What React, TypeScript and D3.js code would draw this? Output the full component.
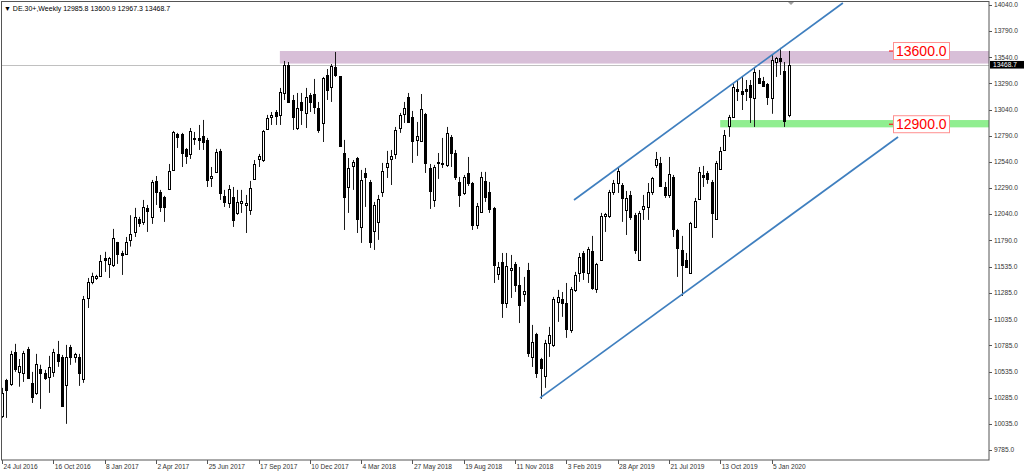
import React from 'react';
import * as d3 from 'd3';

// ---- Data (DE.30+, weekly candles starting week of 24 Jul 2016) ----
const opens = [
  10111, 10455, 10417, 10723, 10530, 10522, 10752, 10427, 10331, 10560,
  10522, 10484, 10532, 10704, 10675, 10407, 10771, 10675, 10675, 10465,
  11239, 11392, 11430, 11450, 11621, 11564, 11555, 11775, 11670, 11660,
  11790, 11870, 11995, 11966, 12100, 12014, 12358, 12253, 12205, 12281,
  12463, 12807, 12807, 12664, 12616, 12759, 12769, 12788, 12750, 12385,
  12444, 12645, 12214, 12147, 12205, 12052, 12147, 12128, 12080, 12377,
  12568, 12558, 12855, 12970, 13017, 12989, 13199, 13467, 13132, 12864,
  13113, 13008, 13180, 13189, 13055, 12912, 13371, 13256, 13448, 13361,
  12625, 12300, 12501, 12577, 11918, 12434, 12348, 11880, 11966, 12253,
  12491, 12568, 12616, 12864, 12998, 13161, 12970, 12750, 12740, 12998,
  12482, 12176, 12539, 12520, 12511, 12778, 12625, 12348, 12243, 12434,
  12338, 11937, 12061, 12358, 12253, 12099, 11469, 11583, 11191, 11507,
  11564, 11363, 11277, 11507, 10675, 10895, 10656, 10494, 10809, 10790,
  11201, 11230, 11191, 10933, 11316, 11478, 11669, 11478, 11688, 11325,
  11602, 12023, 12023, 12253, 12338, 12319, 12080, 12224, 12033, 11602,
  12090, 12109, 12253, 12511, 12530, 12300, 12224, 12396, 11889, 11698,
  11602, 11478, 11918, 12186, 12415, 12434, 12348, 11995, 12472, 12654,
  12883, 12970, 13237, 13218, 13237, 13276, 13151, 13342, 13314, 13285,
  13150, 13495, 13533, 13410, 12985.8,
];
const highs = [
  10379, 10465, 10733, 10800, 10655, 10733, 10771, 10532, 10704, 10600,
  10551, 10685, 10752, 10828, 10694, 10790, 10790, 10714, 10704, 11258,
  11430, 11480, 11460, 11650, 11680, 11631, 11899, 11775, 11690, 11822,
  12030, 12100, 12014, 12176, 12128, 12367, 12405, 12272, 12215, 12520,
  12836, 12817, 12817, 12673, 12864, 12826, 12893, 12941, 12769, 12491,
  12664, 12664, 12272, 12319, 12300, 12272, 12272, 12224, 12358, 12558,
  12616, 12845, 12989, 13017, 13036, 13247, 13505, 13495, 13180, 13199,
  13199, 13247, 13199, 13333, 13113, 13352, 13428, 13476, 13591, 13361,
  12750, 12577, 12558, 12587, 12463, 12482, 12367, 12157, 12224, 12530,
  12645, 12654, 12874, 13008, 13113, 13199, 13027, 12922, 13189, 13008,
  12520, 12511, 12625, 12769, 12874, 12797, 12654, 12396, 12415, 12587,
  12348, 12147, 12444, 12444, 12348, 12109, 11583, 11669, 11669, 11650,
  11583, 11535, 11440, 11574, 10981, 10905, 10666, 10838, 10962, 11249,
  11316, 11296, 11382, 11344, 11488, 11669, 11688, 11727, 11832, 11574,
  12052, 12052, 12272, 12367, 12482, 12338, 12262, 12262, 12052, 12071,
  12224, 12338, 12396, 12635, 12587, 12348, 12587, 12415, 11899, 11832,
  11669, 11966, 12195, 12491, 12501, 12453, 12367, 12549, 12683, 12845,
  12989, 13285, 13323, 13352, 13323, 13323, 13448, 13419, 13352, 13294,
  13562, 13543, 13630, 13495, 13600.9,
];
const lows = [
  10092, 10092, 10398, 10532, 10390, 10436, 10474, 10235, 10312, 10178,
  10455, 10331, 10484, 10580, 10197, 10035, 10599, 10620, 10398, 10427,
  11143, 11370, 11411, 11440, 11488, 11430, 11535, 11564, 11459, 11650,
  11730, 11822, 11918, 11937, 11870, 11947, 12128, 12061, 11966, 12272,
  12453, 12673, 12491, 12520, 12568, 12702, 12654, 12654, 12300, 12300,
  12434, 12176, 12109, 12099, 11918, 12033, 12052, 11860, 12033, 12367,
  12491, 12539, 12845, 12893, 12893, 12893, 13132, 13103, 12845, 12845,
  12893, 12864, 13017, 12998, 12817, 12730, 13132, 13113, 13352, 12683,
  11889, 12052, 12272, 11860, 11765, 12109, 11717, 11698, 11794, 12205,
  12386, 12319, 12568, 12817, 12912, 12912, 12530, 12597, 12730, 12434,
  12090, 12109, 12377, 12482, 12491, 12491, 12367, 12109, 12224, 12310,
  11889, 11899, 12052, 12157, 12052, 11382, 11411, 11048, 11143, 11239,
  11296, 10999, 11201, 10675, 10579, 10474, 10274, 10379, 10675, 10771,
  11010, 11058, 10857, 10905, 11296, 11392, 11411, 11382, 11316, 11287,
  11593, 11870, 12004, 12224, 12243, 11966, 11841, 11985, 11660, 11593,
  11985, 11985, 12224, 12482, 12300, 12195, 12195, 11822, 11440, 11258,
  11526, 11478, 11908, 12176, 12300, 12330, 11813, 11985, 12463, 12645,
  12779, 12970, 13122, 13036, 13122, 12912, 12874, 13294, 13256, 13084,
  13000, 13352, 13371, 12874, 12967.3,
];
const closes = [
  10331, 10360, 10704, 10561, 10590, 10713, 10474, 10293, 10608, 10522,
  10474, 10580, 10723, 10637, 10207, 10675, 10675, 10704, 10522, 11230,
  11392, 11450, 11450, 11593, 11602, 11621, 11813, 11660, 11650, 11775,
  11850, 12015, 11957, 12109, 12070, 12348, 12253, 12109, 12109, 12453,
  12826, 12778, 12625, 12597, 12836, 12768, 12750, 12730, 12367, 12405,
  12635, 12243, 12157, 12281, 11985, 12157, 12166, 12147, 12291, 12520,
  12597, 12836, 12960, 12989, 12979, 13209, 13467, 13113, 12970, 13055,
  13036, 13161, 13113, 13065, 12845, 13342, 13228, 13457, 13371, 12692,
  12205, 12482, 12539, 11995, 12367, 12396, 11774, 12128, 12186, 12453,
  12530, 12597, 12845, 12989, 13055, 12922, 12740, 12788, 13046, 12530,
  12262, 12491, 12530, 12530, 12817, 12625, 12396, 12224, 12396, 12338,
  11937, 12119, 12396, 12205, 12090, 11555, 11535, 11191, 11545, 11526,
  11363, 11172, 11306, 10713, 10818, 10522, 10570, 10809, 10885, 11230,
  11249, 11191, 10943, 11325, 11459, 11631, 11488, 11707, 11335, 11564,
  12023, 12042, 12253, 12338, 12453, 12195, 12195, 12014, 11698, 12052,
  12119, 12253, 12386, 12568, 12310, 12224, 12425, 11899, 11717, 11555,
  11535, 11956, 12166, 12444, 12396, 12380, 12052, 12530, 12645, 12797,
  12970, 13256, 13218, 13190, 13218, 13161, 13400, 13294, 13266, 13161,
  13510, 13533, 13505, 12930, 13468.7,
];

const dateLabels = [
  '24 Jul 2016', '16 Oct 2016', '8 Jan 2017', '2 Apr 2017', '25 Jun 2017', '17 Sep 2017',
  '10 Dec 2017', '4 Mar 2018', '27 May 2018', '19 Aug 2018', '11 Nov 2018', '3 Feb 2019',
  '28 Apr 2019', '21 Jul 2019', '13 Oct 2019', '5 Jan 2020',
];
const dateLabelBars = [0, 12, 24, 36, 48, 60, 72, 84, 96, 108, 120, 132, 144, 156, 168, 180];

const priceTicks = [14040, 13790, 13540, 13290, 13040, 12790, 12540, 12290, 12040, 11790,
  11535, 11285, 11035, 10785, 10535, 10285, 10035, 9785];

const resistanceZone = [13600, 13480];
const resistanceFromBar = 65;
const supportZone = [12940, 12870];
const supportFromBar = 168;
const levelLabels = [13600, 12900];
const lastPrice = 13468.7;

// channel lines, each defined by two (bar, price) anchors
const upperChannel = [[133.8, 12176], [196.7, 14059]];
const lowerChannel = [[125.85, 10283], [209.6, 12778]];

const title = '\u25BC DE.30+,Weekly  12985.8 13600.9 12967.3 13468.7';

export default function App() {
  const W = 1024;
  const H = 474;
  const plotL = 1, plotT = 1, plotR = 989, plotB = 460;

  const x = d3.scaleLinear().domain([0, 231]).range([2, 2 + 4.275 * 231]);
  const y = d3.scaleLinear().domain([9785, 14040]).range([450, 5]);

  const font = "'Liberation Sans', Arial, sans-serif";

  const lineGen = d3.line<number[]>().x(d => x(d[0])).y(d => y(d[1]));

  const candles = opens.map((o, i) => {
    const cx = Math.round(x(i)) + 0.5;
    const c = closes[i];
    const bull = c >= o;
    const top = y(Math.max(o, c));
    const bot = y(Math.min(o, c));
    const yt = Math.round(top) + 0.5;
    let yb = Math.round(bot) + 0.5;
    if (yb - yt < 1) yb = yt + 1;
    return (
      <g key={i}>
        <line x1={cx} x2={cx} y1={y(highs[i])} y2={y(lows[i])} stroke="#1a1a1a" strokeWidth={1} />
        <rect x={cx - 1} y={yt} width={2} height={yb - yt} fill={bull ? '#ffffff' : '#000000'} stroke="#000000" strokeWidth={1} />
      </g>
    );
  });

  const lpY = y(lastPrice);

  return (
    <svg width={W} height={H} style={{ position: 'absolute', left: 0, top: 0, background: '#ffffff' }}>
      <defs>
        <clipPath id="plotClip">
          <rect x={plotL} y={plotT} width={plotR - plotL} height={plotB - plotT} />
        </clipPath>
      </defs>
      <rect x={0} y={0} width={W} height={H} fill="#ffffff" />
      <g clipPath="url(#plotClip)">
        {/* zones */}
        <rect x={x(resistanceFromBar)} y={y(resistanceZone[0])} width={plotR - x(resistanceFromBar)}
          height={y(resistanceZone[1]) - y(resistanceZone[0])} fill="#d8bfd8" />
        <rect x={x(supportFromBar)} y={y(supportZone[0])} width={plotR - x(supportFromBar)}
          height={y(supportZone[1]) - y(supportZone[0])} fill="#90ee90" />
        {/* last price line */}
        <line x1={plotL} x2={plotR} y1={Math.round(lpY) + 0.5} y2={Math.round(lpY) + 0.5} stroke="#c0c0c0" strokeWidth={1} />
        {candles}
        {/* channel */}
        <path d={lineGen(upperChannel) || ''} stroke="#3f7fbf" strokeWidth={1.7} fill="none" />
        <path d={lineGen(lowerChannel) || ''} stroke="#3f7fbf" strokeWidth={1.7} fill="none" />
        {/* level labels */}
        {levelLabels.map((p, k) => (
          <g key={k}>
            <line x1={889} x2={894} y1={y(p)} y2={y(p)} stroke="#ff0000" strokeWidth={1} />
            <rect x={893.5} y={y(p) - 8.5} width={56} height={17} fill="#ffffff" stroke="#ff9090" strokeWidth={1} />
            <text x={896} y={y(p) + 5} fontFamily={font} fontSize={14} fill="#ff0000">{p.toFixed(1)}</text>
          </g>
        ))}
        {/* shift marker */}
        <path d="M787,1 L795,1 L791,5 Z" fill="#a0a0a0" />
      </g>
      {/* frame */}
      <rect x={plotL + 0.5} y={plotT + 0.5} width={plotR - plotL - 0.5} height={plotB - plotT - 0.5} fill="none" stroke="#555555" strokeWidth={1} />
      {/* right axis */}
      {priceTicks.map((p, k) => (
        <g key={k}>
          <line x1={plotR} x2={plotR + 3} y1={Math.round(y(p)) + 0.5} y2={Math.round(y(p)) + 0.5} stroke="#555555" />
          <text x={plotR + 5} y={y(p) + 2.3} fontFamily={font} fontSize={6.6} fill="#333333">{p.toFixed(1)}</text>
        </g>
      ))}
      <rect x={plotR + 1} y={lpY - 3.8} width={34} height={7.6} fill="#000000" />
      <text x={plotR + 4} y={lpY + 2.4} fontFamily={font} fontSize={6.6} fill="#ffffff">{lastPrice.toFixed(1)}</text>
      {/* bottom axis */}
      {dateLabelBars.map((b, k) => (
        <g key={k}>
          <line x1={Math.round(x(b)) + 0.5} x2={Math.round(x(b)) + 0.5} y1={plotB} y2={plotB + 4} stroke="#555555" />
          <text x={x(b) + 1.5} y={468.5} fontFamily={font} fontSize={6.6} fill="#333333">{dateLabels[k]}</text>
        </g>
      ))}
      {/* title */}
      <text x={4} y={11} fontFamily={font} fontSize={7} fill="#000000">{title}</text>
    </svg>
  );
}
